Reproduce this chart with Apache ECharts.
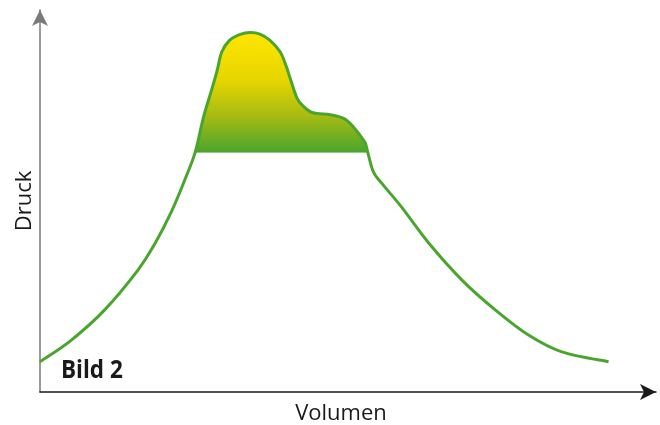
<!DOCTYPE html>
<html>
<head>
<meta charset="utf-8">
<script src="https://cdn.jsdelivr.net/npm/echarts@6/dist/echarts.min.js"></script>
<style>html,body{margin:0;padding:0;background:#fff;}#c{width:660px;height:425px;}</style>
</head>
<body>
<div id="c"></div>
<script>
// Volume / pressure curve (arbitrary units)
var volumen = [0, 5.1, 10.5, 15.9, 18.6, 21.3, 23.5, 25.2, 26.5, 27.6, 28.7, 29.5, 30.8, 32.5, 34.1, 35.7, 37.3, 39.0, 39.9, 40.6, 41.7, 42.7, 44.3, 47.1, 49.2, 50.6, 51.9, 52.8, 53.2, 54.1, 55.5, 58.8, 63.1, 68.5, 73.9, 79.3, 84.7, 92.3];
var druck   = [7.9, 13.6, 21.5, 31.9, 38.7, 47.1, 55.5, 62.8, 71.7, 77.7, 83.8, 89.0, 92.1, 93.6, 94.1, 93.7, 92.1, 89.0, 85.6, 82.2, 77.0, 74.9, 73.1, 72.6, 71.7, 69.9, 67.3, 65.2, 62.8, 57.7, 54.6, 48.2, 39.0, 29.3, 21.5, 14.9, 10.5, 7.9];
var schwelle = 62.8; // level of the horizontal line closing the filled area
var labelX = 'Volumen', labelY = 'Druck', bildLabel = 'Bild 2';

var curve = volumen.map(function (v, i) { return [v, druck[i]]; });

// Catmull-Rom spline path through pixel points
function splinePath(pts, cont) {
  var d = (cont ? 'L' : 'M') + pts[0][0] + ' ' + pts[0][1];
  for (var i = 0; i < pts.length - 1; i++) {
    var p0 = pts[i - 1] || pts[i], p1 = pts[i], p2 = pts[i + 1], p3 = pts[i + 2] || pts[i + 1];
    var c1x = p1[0] + (p2[0] - p0[0]) / 6, c1y = p1[1] + (p2[1] - p0[1]) / 6;
    var c2x = p2[0] - (p3[0] - p1[0]) / 6, c2y = p2[1] - (p3[1] - p1[1]) / 6;
    d += ' C' + c1x + ' ' + c1y + ' ' + c2x + ' ' + c2y + ' ' + p2[0] + ' ' + p2[1];
  }
  return d;
}

function renderCurve(params, api) {
  if (params.dataIndex !== 0) return null;
  var pts = curve.map(function (p) { return api.coord(p); });
  var idx = [];
  curve.forEach(function (p, i) { if (p[1] >= schwelle) idx.push(i); });
  var upPts = idx.map(function (i) { return pts[i]; });
  var base = api.coord([0, schwelle])[1];
  var fillPath = 'M' + upPts[0][0] + ' ' + base + ' ' + splinePath(upPts, true) +
    ' L' + upPts[upPts.length - 1][0] + ' ' + base + ' Z';
  var top = Math.min.apply(null, upPts.map(function (p) { return p[1]; }));
  return {
    type: 'group',
    children: [{
      type: 'path', shape: { pathData: fillPath },
      style: {
        fill: new echarts.graphic.LinearGradient(0, top, 0, base, [
          { offset: 0, color: '#ffe600' },
          { offset: 0.4, color: '#e6d500' },
          { offset: 0.7, color: '#a6bb12' },
          { offset: 1, color: '#4aa52e' }
        ], true),
        stroke: '#4aa52e', lineWidth: 1
      }
    }, {
      type: 'path', shape: { pathData: splinePath(pts, false) },
      style: { fill: 'none', stroke: '#4aa52e', lineWidth: 3 }
    }]
  };
}

var chart = echarts.init(document.getElementById('c'));
chart.setOption({
  animation: false,
  grid: { left: 40, right: 4, top: 10, bottom: 33, outerBoundsMode: 'none', containLabel: false },
  xAxis: {
    type: 'value', min: 0, max: 100,
    name: labelX, nameLocation: 'middle', nameGap: 11,
    nameTextStyle: { fontFamily: 'Open Sans', fontSize: 22, color: '#1a1a1a', padding: [0, 14, 0, 0] },
    axisLine: { show: true, symbol: ['none', 'arrow'], symbolSize: [12, 16], lineStyle: { color: '#1a1a1a', width: 1.5 } },
    axisTick: { show: false }, axisLabel: { show: false }, splitLine: { show: false }
  },
  yAxis: {
    type: 'value', min: 0, max: 100,
    name: labelY, nameLocation: 'middle', nameGap: 4,
    nameTextStyle: { fontFamily: 'Open Sans', fontSize: 22, color: '#1a1a1a' },
    axisLine: { show: true, symbol: ['none', 'arrow'], symbolSize: [12, 16], lineStyle: { color: '#7a7a7a', width: 1.5 } },
    axisTick: { show: false }, axisLabel: { show: false }, splitLine: { show: false }
  },
  graphic: [{
    type: 'text', left: 61, top: 358, scaleX: 0.9,
    style: { text: bildLabel, font: 'bold 25px "Open Sans", sans-serif', fill: '#1a1a1a' }
  }],
  series: [{
    type: 'custom', data: curve, renderItem: renderCurve, clip: false,
    encode: { x: 0, y: 1 }
  }]
});
</script>
</body>
</html>
